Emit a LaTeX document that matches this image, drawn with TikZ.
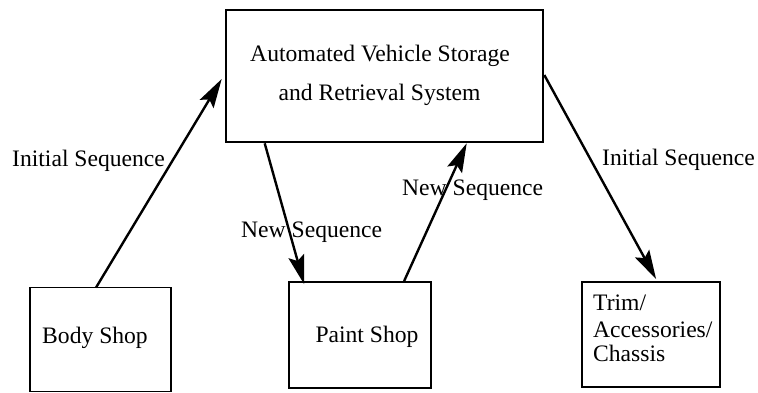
\documentclass[tikz,border=0pt]{standalone}
\usepackage{fontspec}
\setmainfont{Liberation Serif}
\usetikzlibrary{arrows.meta,calc}
\begin{document}
\begin{tikzpicture}[x=1pt,y=-1pt,
  box/.style={draw=black,line width=1.8pt,rectangle,inner sep=0pt},
  txt/.style={inner sep=0pt,anchor=base,font=\fontsize{23.6}{25.5}\selectfont},
  ltxt/.style={txt,anchor=base west},
  flow/.style={line width=2.4pt,-{Stealth[length=29pt,width=16pt,inset=5pt]}}]
\useasboundingbox (0,0) rectangle (758,393);
\fill[white] (0,0) rectangle (758,393);
% boxes
\node[box,line width=2.6pt,minimum width=317pt,minimum height=132pt] (top) at (384.5,76) {};
\node[box,minimum width=141pt,minimum height=104pt] (body) at (100.5,339.5) {};
\node[box,minimum width=142pt,minimum height=106pt] (paint) at (360,335) {};
\node[box,minimum width=138pt,minimum height=105pt] (trim) at (651,334.5) {};
% box texts
\node[txt] (top1) at (380,62) {Automated Vehicle Storage};
\node[txt] (top2) at (379.5,101) {and Retrieval System};
\node[txt] (bodyt) at (95,343) {Body Shop};
\node[txt] (paintt) at (367,342) {Paint Shop};
\node[ltxt] (trim1) at (593,310) {Trim/};
\node[ltxt] (trim2) at (593,337) {Accessories/};
\node[ltxt] (trim3) at (593,361) {Chassis};
% arrows
\draw[flow] ($(body.north)+(-4.5,1)$) -- ($(top.west)+(-3,3)$);
\draw[flow] ($(top.south west)+(40,0)$) -- ($(paint.north west)+(16,3)$);
\draw[flow] ($(paint.north west)+(116,0)$) -- ($(top.south west)+(242,0)$);
\draw[flow] ($(top.east)+(0,-1)$) -- ($(trim.north west)+(75,-2)$);
% arrow labels
\node[ltxt] (l1) at (12,167) {Initial Sequence};
\node[ltxt] (l2) at (241,237) {New Sequence};
\node[ltxt] (l3) at (402,195) {New Sequence};
\node[ltxt] (l4) at (602,165) {Initial Sequence};
\end{tikzpicture}
\end{document}
